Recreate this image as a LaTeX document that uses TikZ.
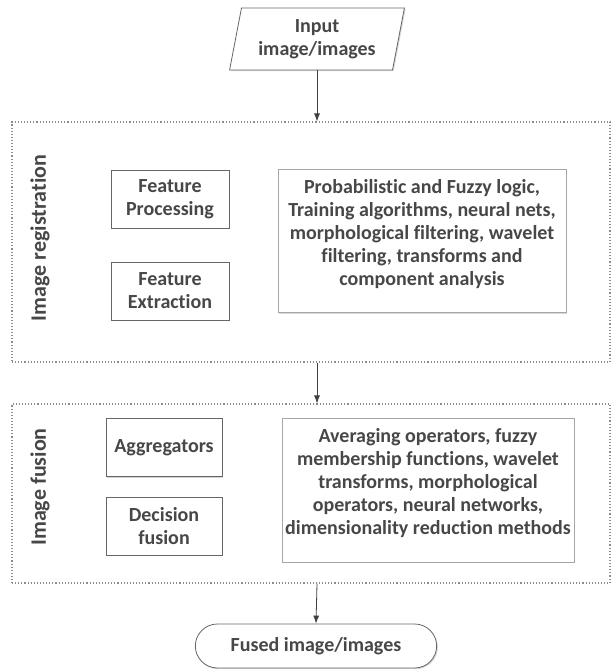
\documentclass[tikz,border=0pt]{standalone}
\usepackage{fontspec}
\setmainfont{Carlito}[RawFeature=-liga]
\usetikzlibrary{shapes.geometric,shapes.misc,shadows,arrows.meta}

\begin{document}
\begin{tikzpicture}[x=1pt, y=-1pt,
    every node/.style={font=\fontsize{20}{23}\selectfont\bfseries, text=black!72, align=center},
    stage/.style={draw=black!60, line width=1pt, minimum width=118pt, minimum height=58pt,
        fill=white, drop shadow={shadow xshift=1.2pt, shadow yshift=-1.2pt, opacity=0.35}},
    methods/.style={draw=black!35, line width=0.6pt, minimum width=288pt, minimum height=143pt,
        fill=white, drop shadow={shadow xshift=1.2pt, shadow yshift=-1.2pt, opacity=0.3}},
    frame/.style={draw=black!45, dotted, line width=1.1pt, minimum width=598pt},
    sidelabel/.style={rotate=90, font=\fontsize{22}{24}\selectfont\bfseries},
    flow/.style={-{Latex[length=8pt,width=6pt]}, draw=black!75, line width=0.8pt},
    ]
    \useasboundingbox (0,0) rectangle (612,670);

    % input
    \node[trapezium, trapezium left angle=78, trapezium right angle=102, trapezium stretches=true,
        draw=black!60, line width=0.8pt, minimum width=175pt, minimum height=62pt, fill=white,
        drop shadow={shadow xshift=1.2pt, shadow yshift=-1.2pt, opacity=0.3}]
        (input) at (317,39) {Input\\image/images};

    % image registration
    \node[frame, minimum height=240pt] (reg) at (311,242) {};
    \node[sidelabel] (reglabel) at (40,238) {Image registration};
    \node[stage] (proc) at (170,199) {Feature\\Processing};
    \node[stage] (extr) at (170,291) {Feature\\Extraction};
    \node[methods] (regmeth) at (422,241) {Probabilistic and Fuzzy logic,\\Training algorithms, neural nets,\\morphological filtering, wavelet\\filtering, transforms and\\component analysis\\[-6pt]~};

    % image fusion
    \node[frame, minimum height=179pt] (fus) at (311,493.5) {};
    \node[sidelabel] (fuslabel) at (40,487) {Image fusion};
    \node[stage, minimum width=116pt] (aggr) at (164,447.5) {Aggregators};
    \node[stage, minimum width=116pt] (dec) at (164,526) {Decision\\fusion};
    \node[methods, minimum height=144pt] (fusmeth) at (428,490) {Averaging operators, fuzzy\\membership functions, wavelet\\transforms, morphological\\operators, neural networks,\\dimensionality reduction methods\\[-6pt]~};

    % output
    \node[rounded rectangle, draw=black!60, line width=0.8pt, minimum width=248pt, minimum height=44pt,
        fill=white, drop shadow={shadow xshift=1.2pt, shadow yshift=-1.2pt, opacity=0.3}]
        (output) at (316,646) {Fused image/images};

    \draw[flow] (input.south) -- (input.south |- reg.north);
    \draw[flow] (input.south |- reg.south) -- (input.south |- fus.north);
    \draw[flow] (input.south |- fus.south) -- (output.north);
\end{tikzpicture}
\end{document}
